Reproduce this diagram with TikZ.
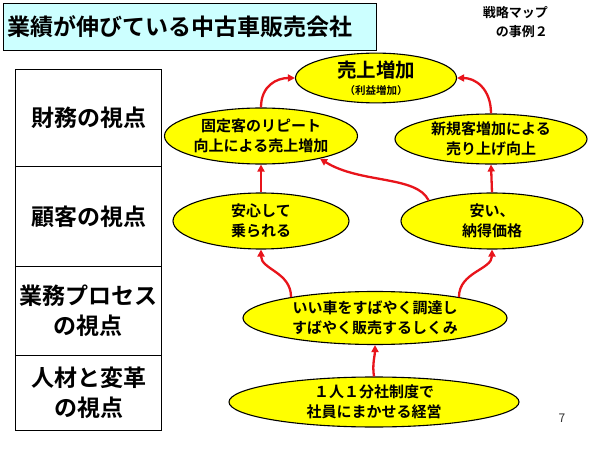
\documentclass[tikz,border=0pt]{standalone}
\usepackage{fontspec}
\setmainfont{Noto Sans CJK JP}[BoldFont={* Bold}]
\usetikzlibrary{shapes.geometric,arrows.meta}
\definecolor{titlefill}{HTML}{CCFFFF}
\definecolor{ellfill}{HTML}{FFFF00}
\definecolor{arrred}{HTML}{E8141B}
\tikzset{
  ell/.style={ellipse, draw=black, line width=1.1pt, fill=ellfill, inner sep=0pt,
    align=center, font=\bfseries\fontsize{15}{19.5}\selectfont},
  cell/.style={rectangle, draw=black, line width=1pt, fill=white, minimum width=146pt,
    inner sep=0pt, align=center, font=\bfseries\fontsize{23}{30}\selectfont},
  arr/.style={draw=arrred, line width=2.3pt, -{Triangle[length=7pt,width=7pt]}},
}
\begin{document}
\begin{tikzpicture}[x=1pt,y=-1pt]
\useasboundingbox[fill=white] (0,0) rectangle (600,449);
% title
\node[rectangle, draw=black, line width=1.3pt, fill=titlefill, minimum width=373pt,
  minimum height=47pt, inner sep=0pt, anchor=north west] (title) at (3,3) {};
\node[anchor=west, inner sep=0pt, font=\bfseries\fontsize{23}{28}\selectfont] (ttext) at (7,27)
  {業績が伸びている中古車販売会社};
\node[anchor=north east, inner sep=0pt, align=right, font=\bfseries\fontsize{13}{19}\selectfont] (sub) at (548,6)
  {戦略マップ\\の事例２};
% left column
\node[cell, minimum height=97pt, anchor=north west] (c1) at (15,69) {財務の視点};
\node[cell, minimum height=100pt, anchor=north west] (c2) at (15,166) {顧客の視点};
\node[cell, minimum height=89pt, anchor=north west] (c3) at (15,266) {業務プロセス\\の視点};
\node[cell, minimum height=75pt, anchor=north west] (c4) at (15,355) {人材と変革\\の視点};
% ellipses
\node[ell, minimum width=161pt, minimum height=47pt] (uri) at (376,78)
  {{\fontsize{19.5}{20}\selectfont 売上増加}\\[-2pt]{\fontsize{10.5}{12}\selectfont （利益増加）}};
\node[ell, minimum width=193pt, minimum height=56pt] (kotei) at (261,136)
  {固定客のリピート\\向上による売上増加};
\node[ell, minimum width=192pt, minimum height=50pt] (shinki) at (491,139)
  {新規客増加による\\売り上げ向上};
\node[ell, minimum width=176pt, minimum height=56pt] (anshin) at (261,221)
  {安心して\\乗られる};
\node[ell, minimum width=182pt, minimum height=56pt] (yasui) at (492,221)
  {安い、\\納得価格};
\node[ell, minimum width=264pt, minimum height=53pt] (iiku) at (375,318)
  {いい車をすばやく調達し\\すばやく販売するしくみ};
\node[ell, minimum width=290pt, minimum height=50pt] (hitori) at (374,402)
  {１人１分社制度で\\社員にまかせる経営};
% page number
\node[inner sep=0pt, font=\fontsize{12}{12}\selectfont, text=black!80] (pg) at (562,418) {7};
% arrows
\draw[arr] (kotei.north) .. controls +(0,-22) and +(-18,0) .. (uri.west);
\draw[arr] (shinki.north) .. controls +(0,-25) and +(18,0) .. (uri.east);
\draw[arr] (anshin.north) -- (kotei.south);
\draw[arr] (yasui.north) -- (shinki.south);
\draw[arr] (yasui.162) .. controls +(-12,-25) and +(40,25) .. (kotei.-21);
\draw[arr] (iiku.166) .. controls +(0,-25) and +(0,20) .. (anshin.south);
\draw[arr] (iiku.14) .. controls +(0,-25) and +(0,20) .. (yasui.south);
\draw[arr] (hitori.north) .. controls +(-2,-12) and +(0,10) .. (iiku.south);
\end{tikzpicture}
\end{document}
